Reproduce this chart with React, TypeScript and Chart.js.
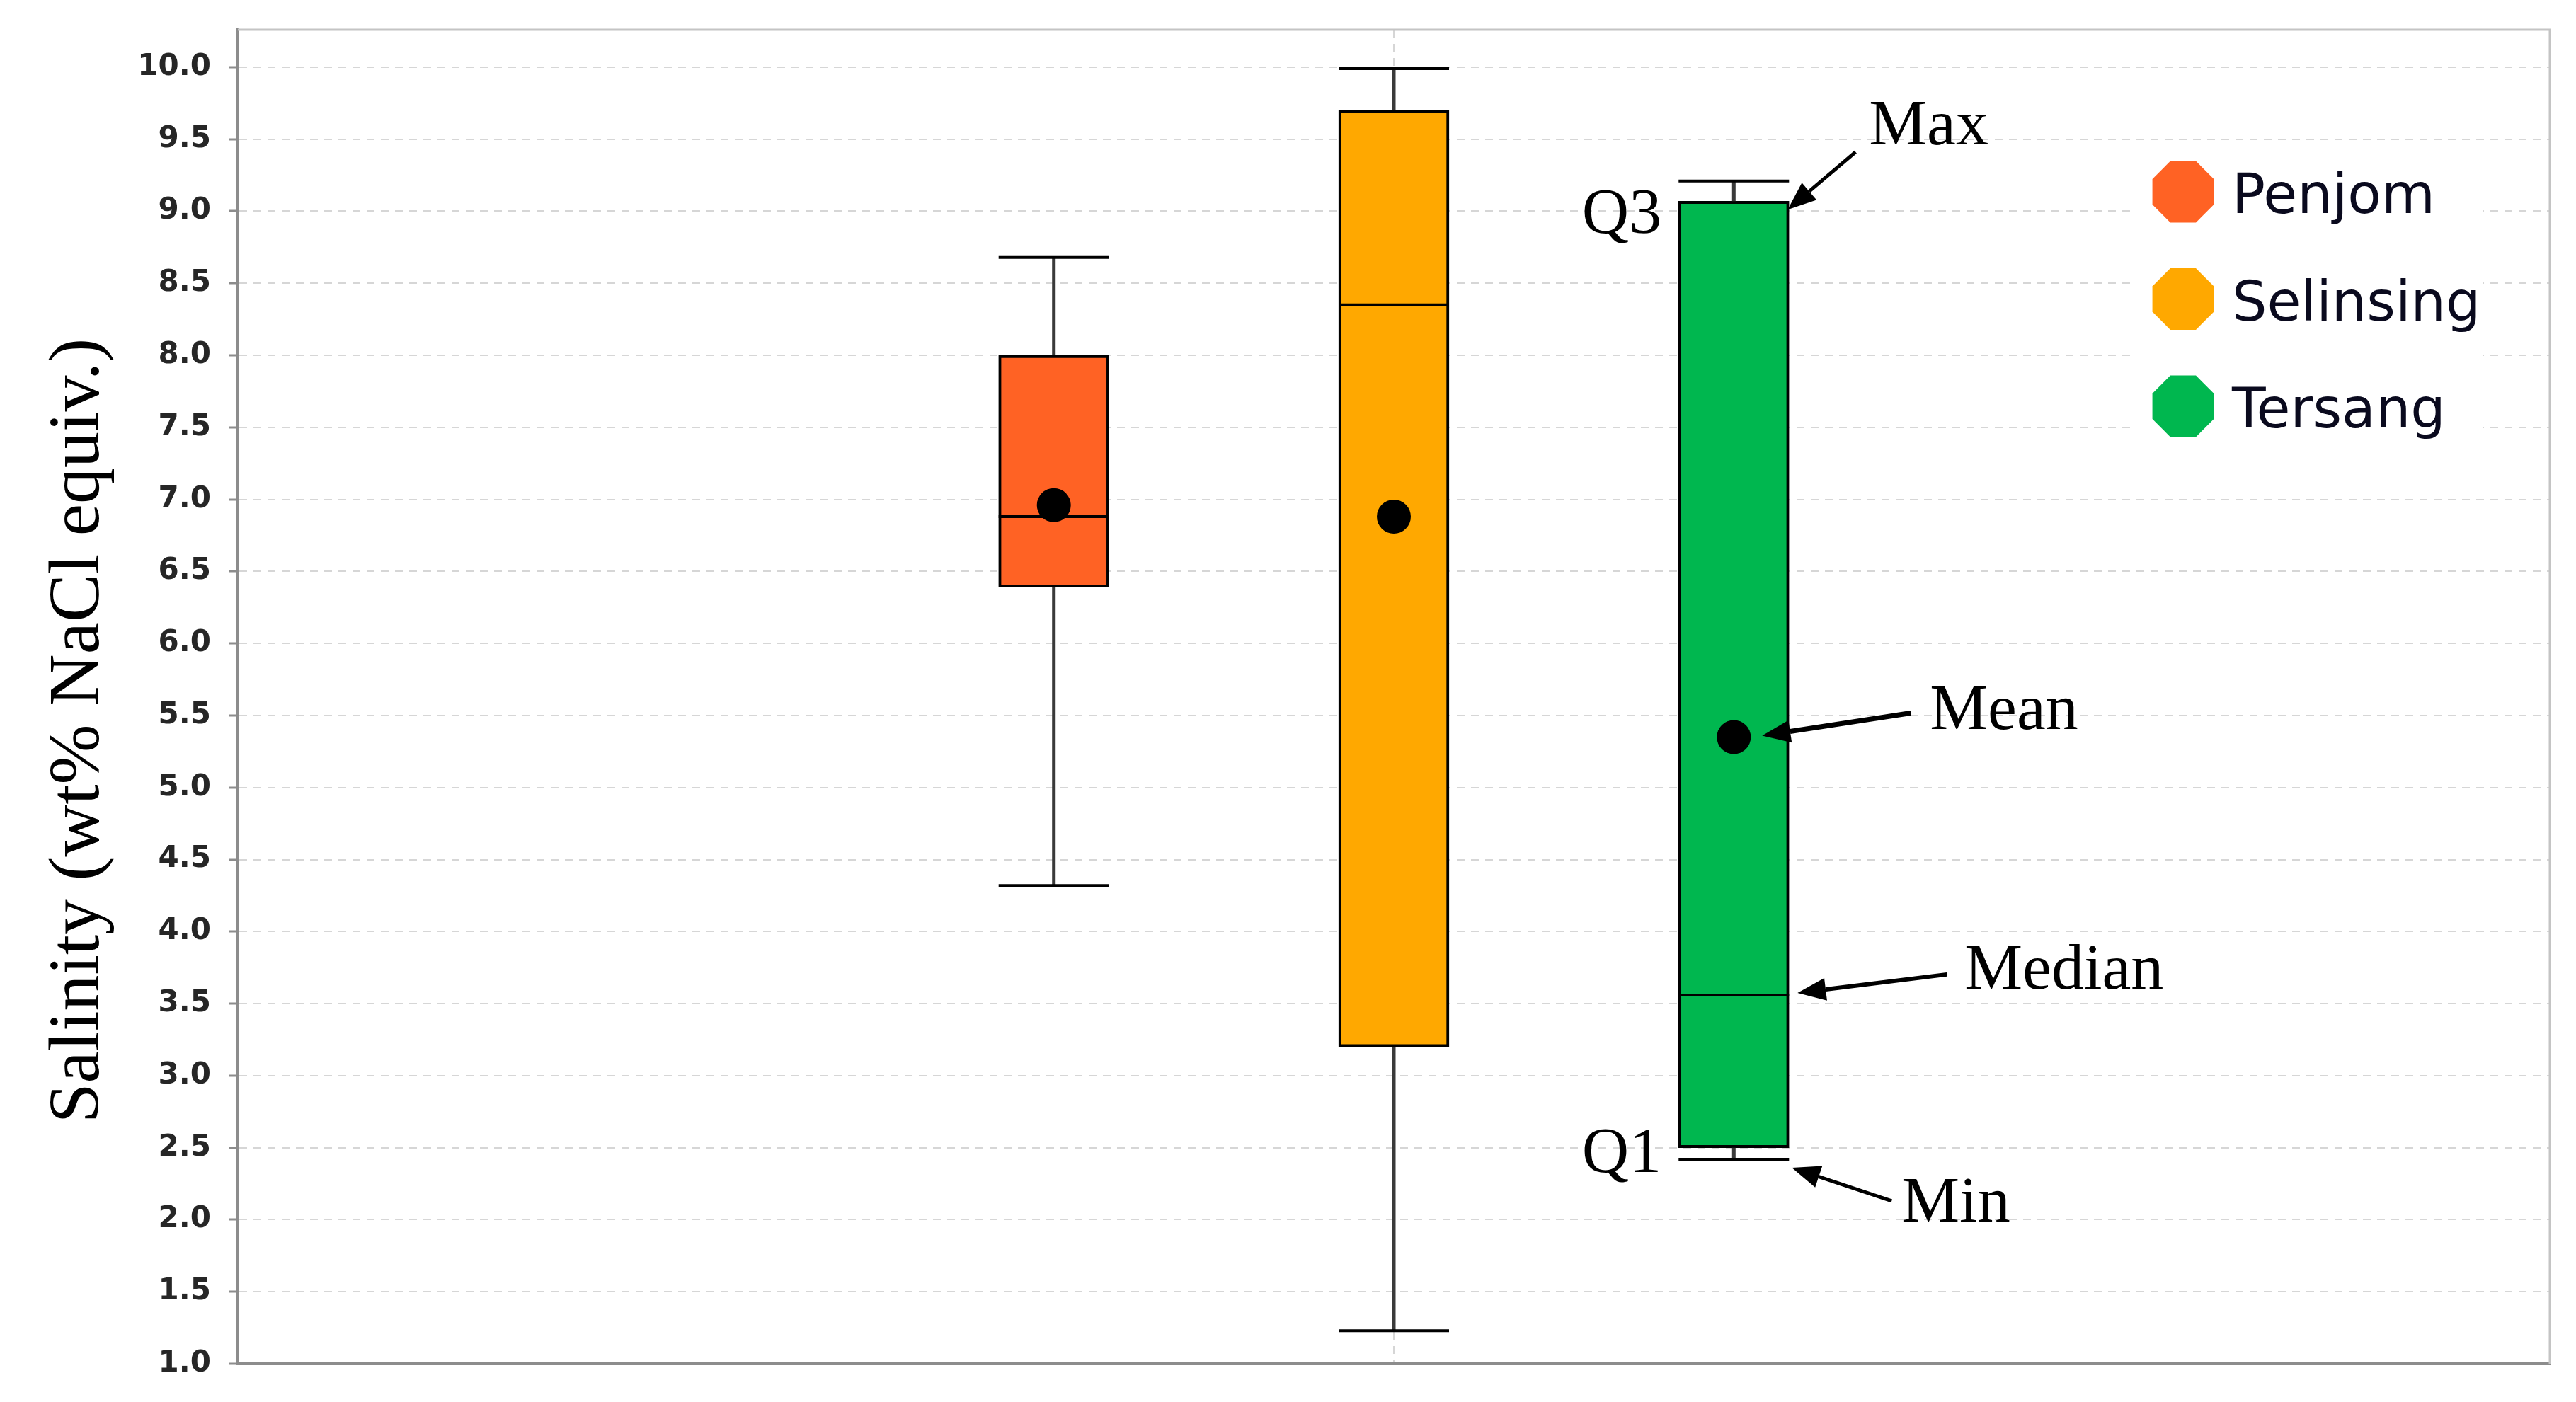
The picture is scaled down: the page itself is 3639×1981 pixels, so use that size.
import React, { useEffect, useRef } from 'react';
import { Chart, registerables } from 'chart.js';

Chart.register(...registerables);

// ---------- data ----------
const categories = ['Penjom', 'Selinsing', 'Tersang'];
const categoryPositions = [1, 2, 3];
const minValues = [4.32, 1.23, 2.42];
const q1Values = [6.39, 3.2, 2.5];
const medianValues = [6.88, 8.35, 3.56];
const q3Values = [8.0, 9.7, 9.07];
const maxValues = [8.68, 9.99, 9.21];
const meanValues = [6.96, 6.88, 5.35];
const boxColors = ['#FF6224', '#FFA800', '#00B74F'];
const yTickValues = [1.0, 1.5, 2.0, 2.5, 3.0, 3.5, 4.0, 4.5, 5.0, 5.5, 6.0, 6.5, 7.0, 7.5, 8.0, 8.5, 9.0, 9.5, 10.0];
const yAxisTitle = 'Salinity (wt% NaCl equiv.)';
const annotatedIndex = 2;
const annotationLabels = { max: 'Max', q3: 'Q3', mean: 'Mean', median: 'Median', q1: 'Q1', min: 'Min' };

const SERIF = '"Liberation Serif", "Times New Roman", serif';
const SANS = '"DejaVu Sans", Verdana, sans-serif';

function drawArrow(ctx: CanvasRenderingContext2D, x1: number, y1: number, x2: number, y2: number, w: number) {
  const ang = Math.atan2(y2 - y1, x2 - x1);
  const headLen = 40;
  const headW = 16;
  const bx = x2 - headLen * Math.cos(ang);
  const by = y2 - headLen * Math.sin(ang);
  ctx.save();
  ctx.strokeStyle = '#000';
  ctx.fillStyle = '#000';
  ctx.lineWidth = w;
  ctx.beginPath();
  ctx.moveTo(x1, y1);
  ctx.lineTo(bx, by);
  ctx.stroke();
  ctx.beginPath();
  ctx.moveTo(x2, y2);
  ctx.lineTo(bx + headW * Math.sin(ang), by - headW * Math.cos(ang));
  ctx.lineTo(bx - headW * Math.sin(ang), by + headW * Math.cos(ang));
  ctx.closePath();
  ctx.fill();
  ctx.restore();
}

const frameBorderPlugin = {
  id: 'frameBorder',
  beforeDatasetsDraw(chart: any) {
    const { ctx, chartArea } = chart;
    ctx.save();
    ctx.strokeStyle = '#c4c4c4';
    ctx.lineWidth = 3;
    ctx.beginPath();
    ctx.moveTo(chartArea.left, chartArea.top);
    ctx.lineTo(chartArea.right, chartArea.top);
    ctx.lineTo(chartArea.right, chartArea.bottom);
    ctx.stroke();
    ctx.restore();
  },
};

const axisTitlePlugin = {
  id: 'axisTitle',
  afterDraw(chart: any) {
    const { ctx, chartArea } = chart;
    ctx.save();
    ctx.translate(139, (chartArea.top + chartArea.bottom) / 2 + 48);
    ctx.rotate(-Math.PI / 2);
    ctx.fillStyle = '#000';
    ctx.font = `102px ${SERIF}`;
    ctx.textAlign = 'center';
    ctx.textBaseline = 'alphabetic';
    ctx.fillText(yAxisTitle, 0, 0);
    ctx.restore();
  },
};

const whiskerPlugin = {
  id: 'whiskers',
  afterDatasetDraw(chart: any, args: any) {
    if (args.index !== 0) return;
    const { ctx } = chart;
    const xs = chart.scales.x;
    const ys = chart.scales.y;
    const meta = chart.getDatasetMeta(0);
    ctx.save();
    categoryPositions.forEach((p, i) => {
      const cx = xs.getPixelForValue(p);
      const half = meta.data[i].width / 2;
      const yMin = ys.getPixelForValue(minValues[i]);
      const yQ1 = ys.getPixelForValue(q1Values[i]);
      const yMed = ys.getPixelForValue(medianValues[i]);
      const yQ3 = ys.getPixelForValue(q3Values[i]);
      const yMax = ys.getPixelForValue(maxValues[i]);
      ctx.strokeStyle = '#3a3a3a';
      ctx.lineWidth = 5;
      ctx.beginPath();
      ctx.moveTo(cx, yQ3);
      ctx.lineTo(cx, yMax);
      ctx.moveTo(cx, yQ1);
      ctx.lineTo(cx, yMin);
      ctx.stroke();
      ctx.strokeStyle = '#000';
      ctx.lineWidth = 4;
      ctx.beginPath();
      ctx.moveTo(cx - half, yMax);
      ctx.lineTo(cx + half, yMax);
      ctx.moveTo(cx - half, yMin);
      ctx.lineTo(cx + half, yMin);
      ctx.moveTo(cx - half, yMed);
      ctx.lineTo(cx + half, yMed);
      ctx.stroke();
    });
    ctx.restore();
  },
};

const annotationPlugin = {
  id: 'boxAnnotations',
  afterDraw(chart: any) {
    const { ctx } = chart;
    const xs = chart.scales.x;
    const ys = chart.scales.y;
    const meta = chart.getDatasetMeta(0);
    const i = annotatedIndex;
    const cx = xs.getPixelForValue(categoryPositions[i]);
    const half = meta.data[i].width / 2;
    const xL = cx - half;
    const xR = cx + half;
    const yMin = ys.getPixelForValue(minValues[i]);
    const yQ1 = ys.getPixelForValue(q1Values[i]);
    const yMed = ys.getPixelForValue(medianValues[i]);
    const yQ3 = ys.getPixelForValue(q3Values[i]);
    const yMax = ys.getPixelForValue(maxValues[i]);
    const yMean = ys.getPixelForValue(meanValues[i]);

    ctx.save();
    ctx.fillStyle = '#000';
    ctx.font = `92px ${SERIF}`;
    ctx.textBaseline = 'alphabetic';
    ctx.textAlign = 'left';
    ctx.fillText(annotationLabels.max, xR + 113, yMax - 52);
    ctx.fillText(annotationLabels.mean, xR + 199, yMean - 11);
    ctx.fillText(annotationLabels.median, xR + 248, yMed - 9);
    ctx.fillText(annotationLabels.min, xR + 159, yMin + 88);
    ctx.textAlign = 'right';
    ctx.fillText(annotationLabels.q3, xL - 24, yQ3 + 45);
    ctx.fillText(annotationLabels.q1, xL - 24, yQ1 + 34);
    ctx.restore();

    drawArrow(ctx, xR + 94, yMax - 41, xR - 2, yQ3 + 12, 5);
    drawArrow(ctx, xR + 172, yMean - 34, cx + 40, yMean - 2, 7);
    drawArrow(ctx, xR + 223, yMed - 29, xR + 12, yMed - 3, 6);
    drawArrow(ctx, xR + 145, yMin + 59, xR + 4, yMin + 12, 5);
  },
};

const legendPlugin = {
  id: 'customLegend',
  afterDraw(chart: any) {
    const { ctx, chartArea } = chart;
    const left = chartArea.right - 590;
    const top = chartArea.top + 172;
    ctx.save();
    ctx.fillStyle = '#ffffff';
    ctx.fillRect(left, top, 496, 440);
    categories.forEach((name, k) => {
      const cy = chartArea.top + 229 + k * 151.5;
      const mx = chartArea.right - 518;
      const r = 47;
      ctx.fillStyle = boxColors[k];
      ctx.beginPath();
      for (let v = 0; v < 8; v++) {
        const a = Math.PI / 8 + (v * Math.PI) / 4;
        const px = mx + r * Math.cos(a);
        const py = cy + r * Math.sin(a);
        if (v === 0) ctx.moveTo(px, py);
        else ctx.lineTo(px, py);
      }
      ctx.closePath();
      ctx.fill();
      ctx.fillStyle = '#0a0a1e';
      ctx.font = `78px ${SANS}`;
      ctx.textAlign = 'left';
      ctx.textBaseline = 'alphabetic';
      ctx.fillText(name, chartArea.right - 449, cy + 30);
    });
    ctx.restore();
  },
};

export default function App() {
  const canvasRef = useRef<HTMLCanvasElement | null>(null);

  useEffect(() => {
    const canvas = canvasRef.current;
    if (!canvas) return;
    const chart = new Chart(canvas, {
      type: 'bar',
      data: {
        datasets: [
          {
            type: 'bar',
            label: 'Box',
            data: categoryPositions.map((p, i) => ({ x: p, y: [q1Values[i], q3Values[i]] })) as any,
            backgroundColor: boxColors,
            borderColor: '#000000',
            borderWidth: 4,
            borderSkipped: false,
            barThickness: 156,
            order: 2,
          } as any,
          {
            type: 'scatter',
            label: 'Mean',
            data: categoryPositions.map((p, i) => ({ x: p, y: meanValues[i] })),
            backgroundColor: '#000000',
            borderColor: '#000000',
            borderWidth: 0,
            pointRadius: 24,
            order: 1,
          } as any,
        ],
      },
      options: {
        animation: false,
        responsive: true,
        maintainAspectRatio: false,
        devicePixelRatio: 1,
        layout: { padding: { left: 0, top: 42, right: 37, bottom: 54 } },
        plugins: {
          legend: { display: false },
          tooltip: { enabled: false },
        },
        scales: {
          x: {
            type: 'linear',
            position: 'bottom',
            min: -1.4,
            max: 5.4,
            offset: false,
            afterBuildTicks: (scale: any) => {
              scale.ticks = [{ value: categoryPositions[1] }];
            },
            afterFit: (scale: any) => {
              scale.height = 0;
              scale.paddingLeft = 0;
              scale.paddingRight = 0;
            },
            ticks: { display: false },
            grid: { offset: false, drawTicks: false, color: '#d6d6d6', lineWidth: 2 },
            border: { color: '#8c8c8c', width: 4, dash: [11, 9] },
          } as any,
          y: {
            type: 'linear',
            position: 'left',
            min: 1,
            max: 10.26,
            afterBuildTicks: (scale: any) => {
              scale.ticks = yTickValues.map((v) => ({ value: v }));
            },
            afterFit: (scale: any) => {
              scale.width = 336;
              scale.paddingTop = 0;
              scale.paddingBottom = 0;
            },
            ticks: {
              padding: 25,
              color: '#262626',
              font: { family: SANS, size: 42, weight: 'bold' },
              callback: (v: any) => Number(v).toFixed(1),
            },
            grid: {
              color: '#d6d6d6',
              lineWidth: 2,
              tickLength: 13,
              tickColor: '#8c8c8c',
              tickWidth: 3,
            },
            border: { color: '#8c8c8c', width: 4, dash: [11, 9] },
            title: { display: false, text: yAxisTitle },
          } as any,
        },
      },
      plugins: [frameBorderPlugin, whiskerPlugin, annotationPlugin, legendPlugin, axisTitlePlugin],
    });
    return () => chart.destroy();
  }, []);

  return (
    <div style={{ position: 'fixed', left: 0, top: 0, width: '3639px', height: '1981px', background: '#ffffff' }}>
      <canvas ref={canvasRef} />
    </div>
  );
}
